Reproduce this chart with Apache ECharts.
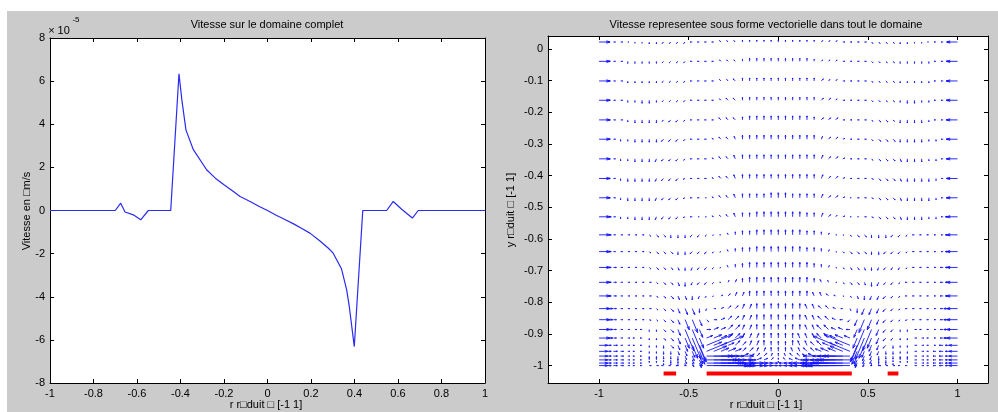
<!DOCTYPE html>
<html>
<head>
<meta charset="utf-8">
<script src="https://cdn.jsdelivr.net/npm/echarts@6/dist/echarts.min.js"></script>
<style>
  html, body { margin: 0; padding: 0; background: #fff; }
  #c { width: 998px; height: 412px; }
</style>
</head>
<body>
<div id="c"></div>
<script>
// ---------- Left panel: wall velocity along r (values in units of 1e-5 m/s) ----------
const wallR = [-1, -0.70, -0.675, -0.655, -0.617, -0.583, -0.548, -0.445, -0.407, -0.394,
  -0.375, -0.341, -0.28, -0.24, -0.20, -0.16, -0.126, -0.08, -0.04, 0,
  0.04, 0.08, 0.12, 0.16, 0.195, 0.24, 0.28, 0.302, 0.34, 0.364,
  0.376, 0.399, 0.438, 0.548, 0.578, 0.617, 0.666, 0.693, 1];
const wallVelocity = [0, 0, 0.34, -0.07, -0.2, -0.43, 0, 0, 6.34, 5.14,
  3.74, 2.82, 1.89, 1.5, 1.19, 0.9, 0.65, 0.42, 0.2, 0,
  -0.22, -0.42, -0.62, -0.85, -1.05, -1.4, -1.75, -1.98, -2.7, -3.68,
  -4.45, -6.31, 0, 0, 0.42, 0.06, -0.35, 0, 0];

const leftXTicks = [-1, -0.8, -0.6, -0.4, -0.2, 0, 0.2, 0.4, 0.6, 0.8, 1];
const leftYTicks = [-8, -6, -4, -2, 0, 2, 4, 6, 8];

// ---------- Right panel: velocity vectors over the whole domain ----------
const fieldX = [-1, -0.96, -0.92, -0.88, -0.84, -0.8, -0.76, -0.72, -0.68, -0.64,
  -0.6, -0.56, -0.52, -0.48, -0.44, -0.4, -0.36, -0.32, -0.28, -0.24,
  -0.2, -0.16, -0.12, -0.08, -0.04, 0, 0.04, 0.08, 0.12, 0.16,
  0.2, 0.24, 0.28, 0.32, 0.36, 0.4, 0.44, 0.48, 0.52, 0.56,
  0.6, 0.64, 0.68, 0.72, 0.76, 0.8, 0.84, 0.88, 0.92, 0.96, 1];
const fieldY = [0.022, -0.039, -0.101, -0.162, -0.224, -0.285, -0.347, -0.409, -0.470, -0.530,
  -0.587, -0.640, -0.690, -0.737, -0.780, -0.820, -0.855, -0.886, -0.913, -0.936,
  -0.955, -0.970, -0.982, -0.992, -1.0];

// One string per row of fieldY, one token per column of fieldX:
// heading letter (a = +x, then 22.5 degree steps counter-clockwise) + magnitude class.
const fieldRows = [
  "a7 a2 a1 a1 a0 m0 m0 m1 m1 k1 k1 k1 k1 i1 i1 i1 i1 g1 g1 g1 e1 e1 e1 e1 e1 e1 e1 e1 e1 e1 e1 c1 c1 c1 a1 a1 a1 a1 o1 o1 o1 o1 m1 m1 m0 m0 i0 i1 i1 i2 i7",
  "a7 a3 a1 a1 m1 m1 m1 m1 m1 k1 k1 k1 k1 i1 i1 i1 i1 g1 g1 g1 e1 e2 e2 e2 e2 e2 e2 e2 e2 e2 e1 c1 c1 c1 a1 a1 a1 a1 o1 o1 o1 o1 m1 m1 m1 m1 m1 i1 i1 i3 i7",
  "a7 a3 a1 a1 m1 m1 m1 m1 m1 k1 k1 k1 k1 i1 i1 i1 i1 g1 g1 g2 e2 e2 e2 e2 e2 e2 e2 e2 e2 e2 e2 c2 c1 c1 a1 a1 a1 a1 o1 o1 o1 o1 m1 m1 m1 m1 m1 i1 i1 i3 i7",
  "a7 a3 a1 a1 m1 m1 m2 m2 m1 k1 k1 k1 k1 i1 i1 i1 i1 g1 g2 g2 e2 e2 e2 e2 e2 e2 e2 e2 e2 e2 e2 c2 c2 c1 a1 a1 a1 a1 o1 o1 o1 o1 m1 m2 m2 m1 m1 i1 i1 i3 i7",
  "a7 a3 a1 a1 m1 m2 m2 m2 m2 k1 k2 k2 k1 i1 i1 i1 i1 g2 g2 g2 e2 e3 e3 e3 e3 e3 e3 e3 e3 e3 e2 c2 c2 c2 a1 a1 a1 a1 o1 o2 o2 o1 m2 m2 m2 m2 m1 i1 i1 i3 i7",
  "a7 a3 a1 m1 m1 m2 m2 m2 m2 k2 k2 k2 k1 i1 i1 i1 h1 g2 g2 f2 e3 e3 e3 e3 e3 e3 e3 e3 e3 e3 e3 d2 c2 c2 b1 a1 a1 a1 o1 o2 o2 o2 m2 m2 m2 m2 m1 m1 i1 i3 i7",
  "a7 a3 a1 m1 m1 m2 m2 m2 l2 k2 k2 k2 k1 i1 i1 i1 h1 g2 g2 f3 e3 e3 e3 e3 e3 e3 e3 e3 e3 e3 e3 d3 c2 c2 b1 a1 a1 a1 o1 o2 o2 o2 n2 m2 m2 m2 m1 m1 i1 i3 i7",
  "a7 a3 a1 m1 m2 m2 m2 m2 l2 k2 k2 k2 j1 i1 i1 i1 h1 g2 g2 f3 e3 e3 e3 e3 e3 e3 e3 e3 e3 e3 e3 d3 c2 c2 b1 a1 a1 a1 p1 o2 o2 o2 n2 m2 m2 m2 m2 m1 i1 i3 i7",
  "a7 a3 a1 m1 m2 m2 m2 m2 l2 k2 k2 k2 j1 i1 i1 i0 h1 g2 g2 f3 e3 e3 e3 e3 e4 e4 e4 e3 e3 e3 e3 d3 c2 c2 b1 a0 a1 a1 p1 o2 o2 o2 n2 m2 m2 m2 m2 m1 i1 i3 i7",
  "a7 a4 a1 m1 m1 m2 m2 m2 l2 k2 k2 k2 j1 i1 i0 i0 h1 g1 g2 f3 e3 e3 e4 e4 e4 e4 e4 e4 e4 e3 e3 d3 c2 c1 b1 a0 a0 a1 p1 o2 o2 o2 n2 m2 m2 m2 m1 m1 i1 i4 i7",
  "a7 a4 a1 a1 a1 a1 a1 o1 o2 o2 m2 m2 m2 k2 k2 k1 j0 i0 f1 e2 e3 e3 e4 e4 e4 e4 e4 e4 e4 e3 e3 e2 d1 a0 p0 o1 o2 o2 m2 m2 m2 k2 k2 k1 i1 i1 i1 i1 i1 i4 i7",
  "a7 a4 a1 a1 a1 a1 a1 o1 o2 o2 o2 m2 m2 k2 k2 k2 k1 j0 f1 e2 e3 e3 e4 e4 e4 e4 e4 e4 e4 e3 e3 e2 d1 p0 o1 o2 o2 o2 m2 m2 k2 k2 k2 k1 i1 i1 i1 i1 i1 i4 i7",
  "a7 a4 a2 a1 a1 a1 a1 o1 o2 o2 o2 n2 m2 l2 k2 k2 k1 j0 f1 e2 e3 e4 e4 e4 e4 e4 e4 e4 e4 e4 e3 e2 d1 p0 o1 o2 o2 n2 m2 l2 k2 k2 k2 k1 i1 i1 i1 i1 i2 i4 i7",
  "a7 a4 a2 a1 a1 a1 a1 a1 o1 o2 o2 n3 m3 l2 k2 k2 k1 i0 d1 d2 e3 e4 e4 e4 e4 e4 e4 e4 e4 e4 e3 f2 f1 a0 o1 o2 o2 n2 m3 l3 k2 k2 k1 i1 i1 i1 i1 i1 i2 i4 i7",
  "a7 a4 a2 a1 a1 a1 a1 a1 o1 o2 o3 n3 n3 m3 l2 k1 j0 b1 c2 d3 d3 e4 e4 e4 e4 e4 e4 e4 e4 e4 f3 f3 g2 h1 p0 o1 n2 m3 l3 l3 k3 k2 k1 i1 i1 i1 i1 i1 i2 i4 i7",
  "a7 a5 a2 a1 a1 a1 a1 a1 o1 o2 o3 n4 n5 n5 m3 l1 a1 b2 c3 c3 d4 d4 e4 e4 e4 e4 e4 e4 e4 f4 f4 g3 g3 h2 i1 n1 m3 l5 l5 l4 k3 k2 k1 i1 i1 i1 i1 i1 i2 i5 i7",
  "a7 a5 a2 a1 a1 a1 a1 p1 o1 o2 o3 n4 n7 n8 n5 o2 a2 b3 c4 c4 d4 d4 e4 e4 e4 e4 e4 e4 e4 f4 f4 g4 g4 h3 i2 k2 l5 l8 l7 l4 k3 k2 k1 j1 i1 i1 i1 i1 i2 i5 i7",
  "a7 a5 a2 a1 a1 a1 i1 m1 m1 o2 o3 n5 nA nC n6 a3 b4 b4 c5 c5 d4 d4 e4 e4 e4 e4 e4 e4 e4 f4 f4 g5 g5 h4 h4 i3 l6 lC lA l5 k3 k2 m1 m1 a1 i1 i1 i1 i2 i5 i7",
  "a7 a5 a2 a1 a1 i1 i1 m1 m1 o2 o3 n5 n7 nA n7 b5 b6 b5 c5 c5 d4 d4 d4 e4 e4 e4 e4 e4 f4 f4 f4 g5 g5 h5 h6 h5 l7 lA l7 l5 k3 k2 m1 m1 a1 a1 i1 i1 i2 i5 i7",
  "a6 a4 a3 a1 a1 i1 i1 m1 m1 m2 o3 n4 n5 n8 n9 bB b6 b5 b5 c5 c4 d4 d4 e4 e3 e3 e3 e4 f4 f4 g4 g5 h5 h5 h6 hB l9 l8 l5 l4 k3 m2 m1 m1 a1 a1 i1 i1 i3 i4 i6",
  "a6 a4 a3 a2 a1 i1 i1 m1 m1 m2 m2 n3 n4 n5 n8 bD b8 b6 b6 b5 c4 c4 d3 d3 e3 e3 e3 f3 f3 g4 g4 h5 h6 h6 h8 hD l8 l5 l4 l3 m2 m2 m1 m1 a1 a1 i1 i2 i3 i4 i6",
  "a6 a4 a3 a2 a1 i1 i1 m1 m1 m2 m2 m3 n3 n4 n6 aE a9 a8 a7 a6 b5 b4 c3 c3 d2 e2 f2 g3 g3 h4 h5 i6 i7 i8 i9 iE l6 l4 l3 m3 m2 m2 m1 m1 a1 a1 i1 i2 i3 i4 i6",
  "a6 a4 a3 a2 a1 i1 i1 e1 e1 m1 m2 m2 n3 n3 n5 aE aA a9 a8 a7 a6 a5 b4 b3 c2 e1 g2 h3 h4 i5 i6 i7 i8 i9 iA iE l5 l3 l3 m2 m2 m1 e1 e1 a1 a1 i1 i2 i3 i4 i6",
  "a6 a4 a3 a2 a1 i1 i1 e1 e1 m1 m1 m2 m2 n3 n4 aE aB aA a9 a9 a8 a8 a7 a6 a5 e1 i5 i6 i7 i8 i8 i9 i9 iA iB iE l4 l3 m2 m2 m1 m1 e1 e1 a1 a1 i1 i2 i3 i4 i6",
  "a6 a4 a3 a2 a1 i1 i1 a1 a1 i1 i1 i1 a0 a0 a2 aE aC aB aA a9 a8 a8 a7 a6 a5 a0 i5 i6 i7 i8 i8 i9 iA iB iC iE i2 i0 i0 a1 a1 a1 i1 i1 a1 a1 i1 i2 i3 i4 i6"
];
const headingCodes = "abcdefghijklmnop";
const magnitudeCodes = "0123456789ABCDE";
// Drawn arrow length (px) for each magnitude class
const magnitudePx = [1.2, 2, 3, 4, 5, 6.5, 8.5, 11, 14, 18, 23, 28, 34, 40, 47];

// Electrodes along the lower wall
const electrodeStart = [-0.64, -0.40, 0.61];
const electrodeEnd = [-0.57, 0.41, 0.67];
const electrodeY = -1.025;

const rightXTicks = [-1, -0.5, 0, 0.5, 1];
const rightYTicks = [0, -0.1, -0.2, -0.3, -0.4, -0.5, -0.6, -0.7, -0.8, -0.9, -1];

// ---------- Build series data ----------
const wallData = wallR.map((r, i) => [r, wallVelocity[i]]);

const fieldData = [];
fieldRows.forEach((row, ri) => {
  row.split(' ').forEach((tok, ci) => {
    fieldData.push([fieldX[ci], fieldY[ri], headingCodes.indexOf(tok[0]), magnitudeCodes.indexOf(tok[1])]);
  });
});

const electrodeData = electrodeStart.map((s, i) => [s, electrodeEnd[i], electrodeY]);

// ---------- Styling helpers ----------
const FONT = '"Liberation Sans", Arial, Helvetica, sans-serif';
const INK = '#000';
const ARROW = '#1414ff';

function boxAxis(gridIndex, position, range, ticks, showLabels) {
  return {
    gridIndex: gridIndex,
    position: position,
    type: 'value',
    min: range[0],
    max: range[1],
    axisLine: { show: true, onZero: false, lineStyle: { color: INK, width: 1 } },
    axisTick: { show: true, inside: true, length: 4, customValues: ticks, lineStyle: { color: INK, width: 1 } },
    axisLabel: { show: showLabels, customValues: ticks, color: INK, fontSize: 11, fontFamily: FONT, margin: 5 },
    splitLine: { show: false }
  };
}

function text(x, y, str, size, extra) {
  return Object.assign({
    type: 'text', x: x, y: y, silent: true,
    style: { text: str, fill: INK, fontSize: size, fontFamily: FONT, align: 'center', verticalAlign: 'middle' }
  }, extra || {});
}

const leftXRange = [-1, 1], leftYRange = [-8, 8];
const rightXRange = [-1.285, 1.17], rightYRange = [-1.055, 0.041];

const chart = echarts.init(document.getElementById('c'), null, { renderer: 'canvas', width: 998, height: 412 });

chart.setOption({
  animation: false,
  backgroundColor: '#cbcbcb',
  grid: [
    { left: 50, top: 38, width: 435, height: 345, show: true, backgroundColor: '#fff', borderWidth: 0 },
    { left: 548, top: 36, width: 440, height: 347, show: true, backgroundColor: '#fff', borderWidth: 0 }
  ],
  xAxis: [
    boxAxis(0, 'bottom', leftXRange, leftXTicks, true),
    boxAxis(0, 'top', leftXRange, leftXTicks, false),
    boxAxis(1, 'bottom', rightXRange, rightXTicks, true),
    boxAxis(1, 'top', rightXRange, rightXTicks, false)
  ],
  yAxis: [
    boxAxis(0, 'left', leftYRange, leftYTicks, true),
    boxAxis(0, 'right', leftYRange, leftYTicks, false),
    boxAxis(1, 'left', rightYRange, rightYTicks, true),
    boxAxis(1, 'right', rightYRange, rightYTicks, false)
  ],
  graphic: [
    { type: 'rect', shape: { x: 0, y: 0, width: 998, height: 11 }, style: { fill: '#fff' }, silent: true },
    { type: 'rect', shape: { x: 0, y: 0, width: 7, height: 412 }, style: { fill: '#fff' }, silent: true },
    text(267, 25, 'Vitesse sur le domaine complet', 11),
    text(766, 25, 'Vitesse representee sous forme vectorielle dans tout le domaine', 11),
    text(59, 31, '× 10', 11),
    text(76, 20, '-5', 8),
    text(266, 405, 'r r□duit □ [-1 1]', 11),
    text(766, 405, 'r r□duit □ [-1 1]', 11),
    text(27, 211, 'Vitesse en □m/s', 11, { rotation: Math.PI / 2 }),
    text(511, 210, 'y r□duit □ [-1 1]', 11, { rotation: Math.PI / 2 })
  ],
  series: [
    {
      type: 'line',
      xAxisIndex: 0, yAxisIndex: 0,
      data: wallData,
      showSymbol: false,
      silent: true,
      lineStyle: { color: '#2a2af2', width: 1.2 }
    },
    {
      type: 'custom',
      xAxisIndex: 2, yAxisIndex: 2,
      data: fieldData,
      silent: true,
      clip: true,
      encode: { x: 0, y: 1 },
      renderItem: function (params, api) {
        const p = api.coord([api.value(0), api.value(1)]);
        const L = magnitudePx[api.value(3)];
        const th = api.value(2) * Math.PI / 8;
        const u = Math.cos(th) * L, v = Math.sin(th) * L;
        const tip = [p[0] + u, p[1] - v];
        // arrow head: MATLAB-like proportions, kept small on long arrows
        const a = Math.min(0.33, 4 / L), b = 0.33;
        const h1 = [tip[0] - a * (u + b * v), tip[1] + a * (v - b * u)];
        const h2 = [tip[0] - a * (u - b * v), tip[1] + a * (v + b * u)];
        const st = { stroke: ARROW, lineWidth: 0.9, fill: null };
        return {
          type: 'group',
          children: [
            { type: 'polyline', shape: { points: [p, tip] }, style: st },
            { type: 'polyline', shape: { points: [h1, tip, h2] }, style: st }
          ]
        };
      }
    },
    {
      type: 'custom',
      xAxisIndex: 2, yAxisIndex: 2,
      data: electrodeData,
      silent: true,
      encode: { x: [0, 1], y: 2 },
      renderItem: function (params, api) {
        const s = api.coord([api.value(0), api.value(2)]);
        const e = api.coord([api.value(1), api.value(2)]);
        return { type: 'rect', shape: { x: s[0], y: s[1] - 2, width: e[0] - s[0], height: 4 }, style: { fill: '#ff0000' } };
      }
    }
  ]
});
</script>
</body>
</html>
